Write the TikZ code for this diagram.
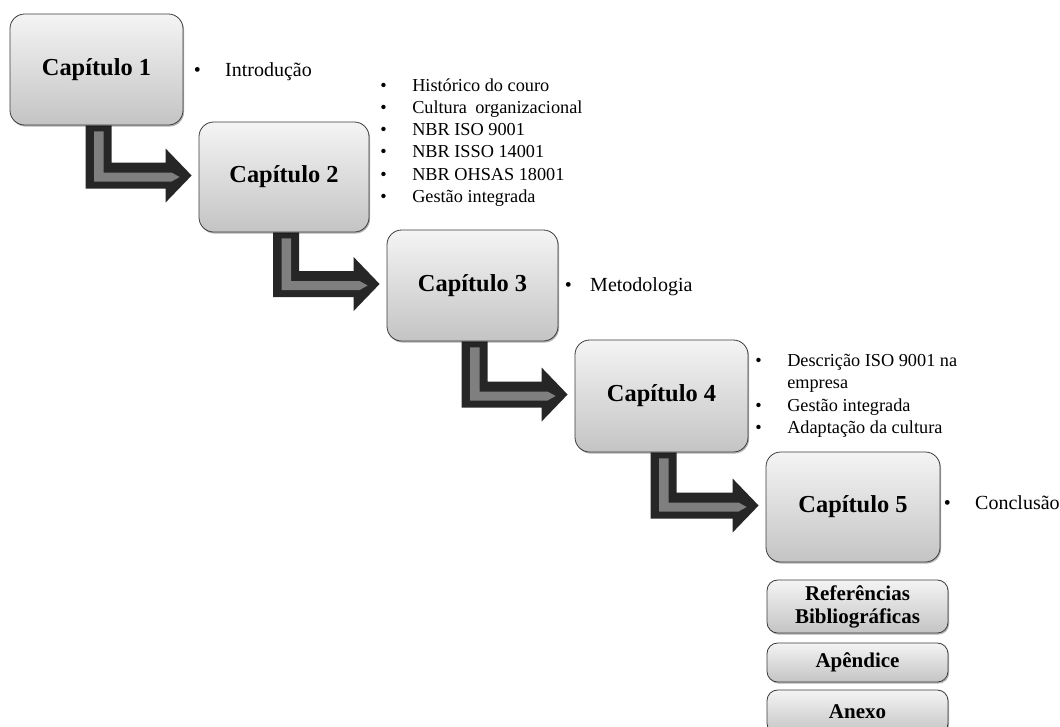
\documentclass[tikz,border=0pt]{standalone}
\usepackage{fontspec}
\setmainfont{Liberation Serif}
\usetikzlibrary{calc,shadows,backgrounds}

\definecolor{arrowdark}{HTML}{262626}
\definecolor{arrowgray}{HTML}{7F7F7F}
\definecolor{boxtop}{HTML}{F4F4F4}
\definecolor{boxbottom}{HTML}{C4C4C4}
\definecolor{boxline}{HTML}{3C3C3C}

% bullet followed by its text; optional argument is the gap to the text
\newcommand\bul[2][24pt]{\makebox[#1][l]{\textbullet}#2}

\tikzset{
  boxsize/.style 2 args={minimum width={#1*0.75pt}, minimum height={#2*0.75pt}},
  chapbox/.style={draw=boxline, line width=0.6pt, rounded corners=11pt,
    top color=boxtop, bottom color=boxbottom, align=center, inner sep=0pt,
    font=\fontsize{18.3}{22}\selectfont\bfseries,
    drop shadow={shadow xshift=0.8pt, shadow yshift=-1.2pt, opacity=0.3, fill=black}},
  endbox/.style={chapbox, rounded corners=8pt,
    font=\fontsize{15.75}{17.25}\selectfont\bfseries},
  listitem/.style={anchor=base west, inner sep=0pt, font=\fontsize{13.7}{16}\selectfont},
  singleitem/.style={anchor=base west, inner sep=0pt, font=\fontsize{15}{18}\selectfont},
}

% bent block arrow from the bottom of one box to the left side of the next
\newcommand\stepflow[2]{%
  \coordinate (#1-#2-s) at ($(#1.south)+(2,0)$);
  \coordinate (#1-#2-k) at ($(#1.south |- #2.west)+(2,-1.5)$);
  \coordinate (#1-#2-t) at ($(#2.west)+(-7,-1.5)$);
  \fill[arrowdark] ($(#1-#2-s)+(-13,0)$) -- ($(#1-#2-s)+(13,0)$)
    -- ($(#1-#2-k)+(13,-13)$) -- ($(#1-#2-t)+(-26,-13)$)
    -- ($(#1-#2-t)+(-26,-27)$) -- (#1-#2-t) -- ($(#1-#2-t)+(-26,27)$)
    -- ($(#1-#2-t)+(-26,13)$) -- ($(#1-#2-k)+(-13,13)$) -- cycle;
  \fill[arrowgray] ($(#1-#2-s)+(-4.5,6)$) -- ($(#1-#2-s)+(5,6)$)
    -- ($(#1-#2-k)+(5,-3)$) -- ($(#1-#2-t)+(-20,-3)$)
    -- ($(#1-#2-t)+(-12,1.5)$) -- ($(#1-#2-t)+(-20,6)$)
    -- ($(#1-#2-k)+(-4.5,6)$) -- cycle;
}

\begin{document}
\begin{tikzpicture}[x=0.75pt, y=-0.75pt]
  \useasboundingbox (0,0) rectangle (1060,726);
  \clip (0,0) rectangle (1060,726);

  % chapter boxes
  \node[chapbox, boxsize={173}{111}] (b1) at (96.5,69.5) {Capítulo 1};
  \node[chapbox, boxsize={170}{110}] (b2) at (284,177) {Capítulo 2};
  \node[chapbox, boxsize={171}{111}] (b3) at (472.5,285.5) {Capítulo 3};
  \node[chapbox, boxsize={173}{112}] (b4) at (661.5,396) {Capítulo 4};
  \node[chapbox, boxsize={174}{110}] (b5) at (853,507) {Capítulo 5};

  % closing sections
  \node[endbox, boxsize={181}{53}] (ref) at (857.5,606.5) {Referências\\Bibliográficas};
  \node[endbox, boxsize={181}{39}] (apx) at (857.5,662.5) {Apêndice};
  \node[endbox, boxsize={181}{44}] (anx) at (857.5,712) {Anexo};

  % flow arrows behind the boxes
  \begin{scope}[on background layer]
    \stepflow{b1}{b2}
    \stepflow{b2}{b3}
    \stepflow{b3}{b4}
    \stepflow{b4}{b5}
  \end{scope}

  % chapter contents
  \node[singleitem] (i1) at (193.5,76) {\bul[23.6pt]{Introdução}};

  \node[listitem] (l2a) at (380,91)    {\bul{Histórico do couro}};
  \node[listitem] (l2b) at (380,113.3) {\bul{Cultura\hspace{0.45em}organizacional}};
  \node[listitem] (l2c) at (380,135.6) {\bul{NBR ISO 9001}};
  \node[listitem] (l2d) at (380,157.9) {\bul{NBR ISSO 14001}};
  \node[listitem] (l2e) at (380,180.2) {\bul{NBR OHSAS 18001}};
  \node[listitem] (l2f) at (380,202.5) {\bul{Gestão integrada}};

  \node[singleitem] (i3) at (564.5,291) {\bul[19.1pt]{Metodologia}};

  \node[listitem] (l4a) at (755,366)   {\bul{Descrição ISO 9001 na}};
  \node[listitem] (l4b) at (755,388.5) {\hspace{24pt}empresa};
  \node[listitem] (l4c) at (755,411)   {\bul{Gestão integrada}};
  \node[listitem] (l4d) at (755,433.5) {\bul{Adaptação da cultura}};

  \node[singleitem] (i5) at (943.5,509) {\bul[23.6pt]{Conclusão}};
\end{tikzpicture}
\end{document}
